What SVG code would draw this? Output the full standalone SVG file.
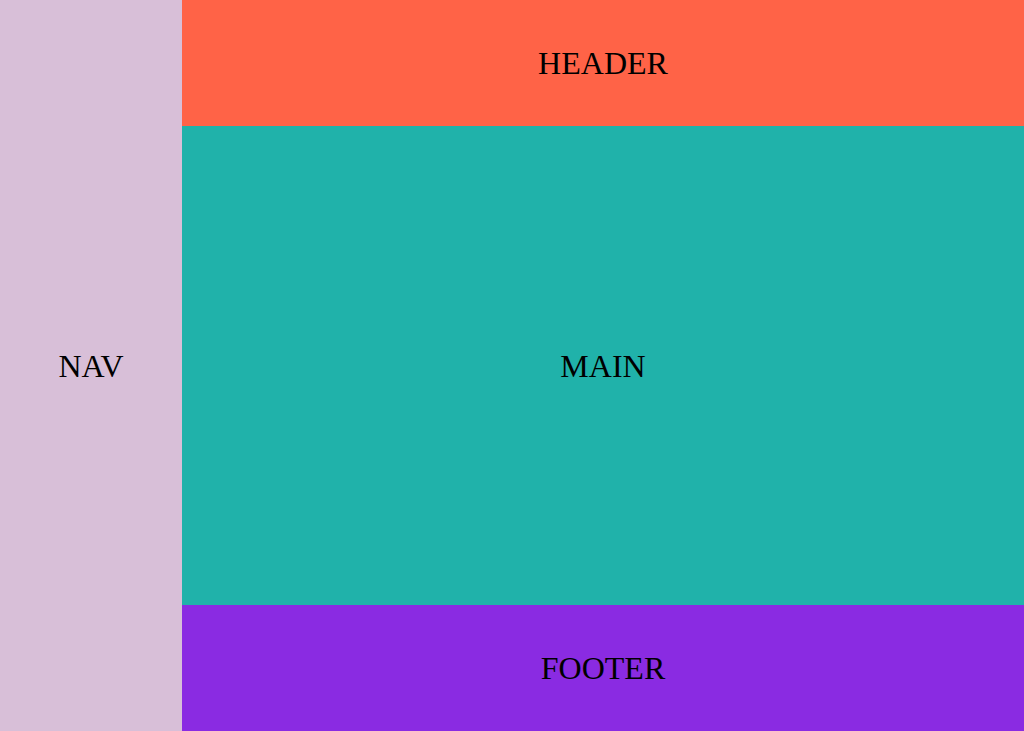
<svg xmlns="http://www.w3.org/2000/svg" width="1024" height="731" viewBox="0 0 1024 731">
<style>
text{font-family:"Liberation Serif","Times New Roman",serif;font-size:32px;fill:#000;text-anchor:middle;dominant-baseline:central}
</style>
<g id="nav"><rect x="0" y="0" width="182" height="731" fill="#D8BFD8"/><text x="91" y="366">NAV</text></g>
<g id="header"><rect x="182" y="0" width="842" height="126" fill="#FF6347"/><text x="603" y="63">HEADER</text></g>
<g id="main"><rect x="182" y="126" width="842" height="479" fill="#20B2AA"/><text x="603" y="366">MAIN</text></g>
<g id="footer"><rect x="182" y="605" width="842" height="126" fill="#8A2BE2"/><text x="603" y="668">FOOTER</text></g>
<g id="connectors"/>
</svg>
